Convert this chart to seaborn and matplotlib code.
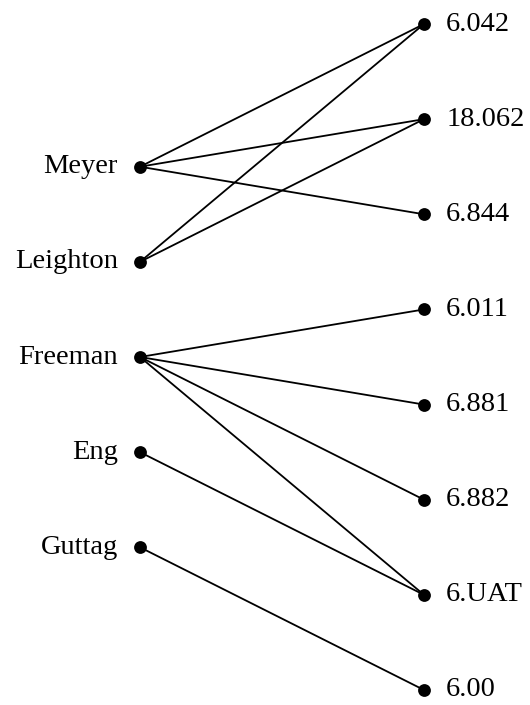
import matplotlib
matplotlib.use("Agg")
import matplotlib.pyplot as plt
import seaborn as sns
import pandas as pd

# ── data ──────────────────────────────────────────────
teachers = ["Meyer", "Leighton", "Freeman", "Eng", "Guttag"]
courses = ["6.042", "18.062", "6.844", "6.011", "6.881", "6.882", "6.UAT", "6.00"]
edge_src = ["Meyer", "Meyer", "Meyer", "Leighton", "Leighton",
            "Freeman", "Freeman", "Freeman", "Freeman", "Eng", "Guttag"]
edge_dst = ["6.042", "18.062", "6.844", "6.042", "18.062",
            "6.011", "6.881", "6.882", "6.UAT", "6.UAT", "6.00"]

# positions: courses on a unit grid, teachers centred between them
pos = {c: (1.0, i) for i, c in enumerate(courses)}
pos.update({t: (0.0, i + 1.5) for i, t in enumerate(teachers)})

rows = []
for k, (s, d) in enumerate(zip(edge_src, edge_dst)):
    for n in (s, d):
        rows.append({"edge": k, "x": pos[n][0], "y": pos[n][1]})
edges = pd.DataFrame(rows)

nodes = pd.DataFrame({"name": teachers + courses,
                      "x": [pos[n][0] for n in teachers + courses],
                      "y": [pos[n][1] for n in teachers + courses]})

# ── plot ──────────────────────────────────────────────
sns.set_style("white")
plt.rcParams["font.family"] = ["Liberation Serif", "DejaVu Serif"]

fig = plt.figure(figsize=(5.3, 7.05), dpi=100)
ax = fig.add_axes([0, 0, 1, 1])

sns.lineplot(data=edges, x="x", y="y", units="edge", estimator=None,
             color="black", linewidth=1.3, sort=False, ax=ax, legend=False)
sns.scatterplot(data=nodes, x="x", y="y", color="black", s=85,
                edgecolor="black", linewidth=0, zorder=3, ax=ax, legend=False)

for t in teachers:
    ax.annotate(t, pos[t], xytext=(-16, 0), textcoords="offset points",
                ha="right", va="center", fontsize=20.5, color="black")
for c in courses:
    ax.annotate(c, pos[c], xytext=(16, 0), textcoords="offset points",
                ha="left", va="center", fontsize=20.5, color="black")

ax.set_xlim(-140 / 284, 1 + 106 / 284)
ax.set_ylim(7 + 15 / 95.14, -24 / 95.14)
ax.axis("off")

plt.savefig("out.png", dpi=100)
plt.close()
